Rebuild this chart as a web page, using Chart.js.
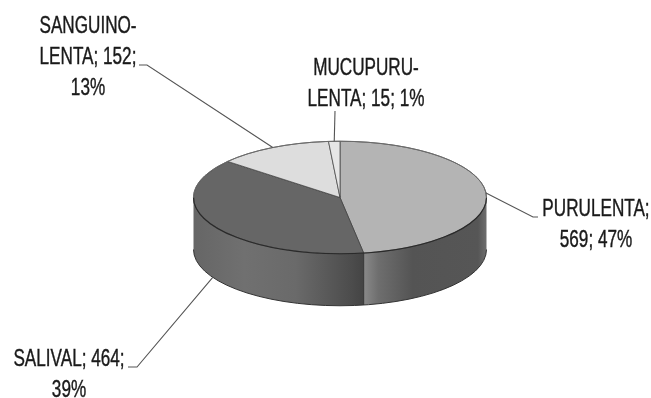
<!DOCTYPE html>
<html>
<head>
<meta charset="utf-8">
<style>
  html, body { margin: 0; padding: 0; background: #fff; }
  #wrap { width: 651px; height: 398px; overflow: hidden; }
</style>
<script src="https://cdn.jsdelivr.net/npm/chart.js@4"></script>
</head>
<body>
<div id="wrap"><canvas id="pie" width="651" height="398"></canvas></div>
<script>
// Secretion types and their counts, clockwise from twelve o'clock
const categories = ["PURULENTA", "SALIVAL", "SANGUINOLENTA", "MUCUPURULENTA"];
const counts = [569, 464, 152, 15];
const topColors = ["#b4b4b4", "#666666", "#dddddd", "#e6e6e6"];

// Wall shading stops as [position along the visible rim, grey]
const wallStops = [
  [[0, "#8a8a8a"], [0.12, "#6e6e6e"], [0.4, "#545454"], [0.93, "#565656"], [1, "#6e6e6e"]],
  [[0, "#666666"], [0.3, "#707070"], [0.6, "#6a6a6a"], [0.93, "#4c4c4c"], [1, "#444444"]]
];

const total = counts.reduce((a, b) => a + b, 0);
const pct = v => Math.round(v / total * 100) + "%";

// Label lines, broken the way the callouts wrap
const labelLines = [
  [categories[0] + ";", counts[0] + "; " + pct(counts[0])],
  [categories[1] + "; " + counts[1] + ";", pct(counts[1])],
  ["SANGUINO-", "LENTA; " + counts[2] + ";", pct(counts[2])],
  ["MUCUPURU-", "LENTA; " + counts[3] + "; " + pct(counts[3])]
];

// Callout layout: text centre x, first baseline y, elbow points after the rim anchor
const callouts = [
  { cx: 596, y: 216, line: [[533, 217], [538, 217]] },
  { cx: 69, y: 366, line: [[137, 367], [128, 367]], onWallBottom: true },
  { cx: 88, y: 33, line: [[147, 65], [139, 65]] },
  { cx: 366, y: 75, line: [[335, 111]] }
];

const SQUASH = 0.384;   // vertical flattening of the disc
const DEPTH = 52;       // height of the cylinder wall
const LINE_GAP = 31;
const TEXT_NARROW = 0.745;

// Flattens the library-drawn arcs into a tilted disc and adds the wall beneath them
const tiltedDisc = {
  id: "tiltedDisc",
  beforeDatasetsDraw(chart) {
    const { ctx } = chart;
    const arcs = chart.getDatasetMeta(0).data;
    const { x, y, outerRadius: r } = arcs[0];
    const ry = r * SQUASH;

    // Wall pieces: only the part of each slice facing the viewer (canvas angles 0..PI)
    arcs.forEach((arc, i) => {
      const a0 = Math.max(arc.startAngle, 0);
      const a1 = Math.min(arc.endAngle, Math.PI);
      if (a1 <= a0 || !wallStops[i]) return;
      const xa = x + r * Math.cos(a0), xb = x + r * Math.cos(a1);
      const g = ctx.createLinearGradient(Math.min(xa, xb), 0, Math.max(xa, xb), 0);
      wallStops[i].forEach(([p, c]) => g.addColorStop(p, c));
      ctx.beginPath();
      ctx.ellipse(x, y, r, ry, 0, a0, a1);
      ctx.ellipse(x, y + DEPTH, r, ry, 0, a1, a0, true);
      ctx.closePath();
      ctx.fillStyle = g;
      ctx.fill();
    });

    // Bottom rim and the seam where the two wall pieces meet
    ctx.strokeStyle = "#333333";
    ctx.lineWidth = 1;
    ctx.beginPath();
    ctx.ellipse(x, y + DEPTH, r, ry, 0, 0, Math.PI);
    ctx.stroke();
    const seam = arcs[0].endAngle;
    const sx = x + r * Math.cos(seam), sy = y + ry * Math.sin(seam);
    ctx.beginPath();
    ctx.moveTo(sx, sy);
    ctx.lineTo(sx, sy + DEPTH);
    ctx.stroke();

    ctx.save();
    ctx.translate(0, y);
    ctx.scale(1, SQUASH);
    ctx.translate(0, -y);
  },
  afterDatasetsDraw(chart) {
    const { ctx } = chart;
    ctx.restore();
    const arcs = chart.getDatasetMeta(0).data;
    const { x, y, outerRadius: r } = arcs[0];
    const ry = r * SQUASH;

    // Crisp front edge between disc and wall, softer back edge
    ctx.lineWidth = 1.2;
    ctx.strokeStyle = "#2a2a2a";
    ctx.beginPath();
    ctx.ellipse(x, y, r, ry, 0, 0, Math.PI);
    ctx.stroke();
    ctx.lineWidth = 1;
    ctx.strokeStyle = "#6a6a6a";
    ctx.beginPath();
    ctx.ellipse(x, y, r, ry, 0, Math.PI, 2 * Math.PI);
    ctx.stroke();

    // Leader lines start on the rim at each slice's middle angle
    ctx.strokeStyle = "#555555";
    ctx.lineWidth = 1.1;
    callouts.forEach((c, i) => {
      const mid = (arcs[i].startAngle + arcs[i].endAngle) / 2;
      const ax = x + r * Math.cos(mid);
      const ay = y + ry * Math.sin(mid) + (c.onWallBottom ? DEPTH : 0);
      ctx.beginPath();
      ctx.moveTo(ax, ay);
      c.line.forEach(([px, py]) => ctx.lineTo(px, py));
      ctx.stroke();
    });

    // Callout text, narrowed horizontally, with a hairline stroke for weight
    ctx.fillStyle = "#1a1a1a";
    ctx.strokeStyle = "#1a1a1a";
    ctx.lineWidth = 0.4;
    ctx.textAlign = "center";
    ctx.textBaseline = "alphabetic";
    ctx.font = '23px "Liberation Sans", sans-serif';
    labelLines.forEach((lines, i) => {
      lines.forEach((t, k) => {
        ctx.save();
        ctx.translate(callouts[i].cx, callouts[i].y + k * LINE_GAP);
        ctx.scale(TEXT_NARROW, 1);
        ctx.fillText(t, 0, 0);
        ctx.strokeText(t, 0, 0);
        ctx.restore();
      });
    });
  }
};

new Chart(document.getElementById("pie"), {
  type: "pie",
  data: {
    labels: categories,
    datasets: [{
      data: counts,
      backgroundColor: topColors,
      borderColor: "#3a3a3a",
      borderWidth: 1,
      borderAlign: "center"
    }]
  },
  options: {
    responsive: false,
    animation: false,
    // Padding places the disc centre and sets its radius
    layout: { padding: { left: 193, right: 164, top: 50.5, bottom: 53.5 } },
    plugins: { legend: { display: false }, tooltip: { enabled: false } }
  },
  plugins: [tiltedDisc]
});
</script>
</body>
</html>
